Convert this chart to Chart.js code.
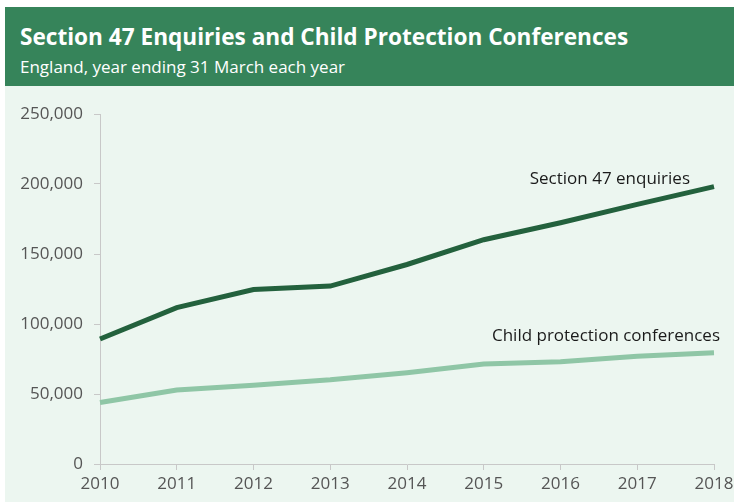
<!DOCTYPE html>
<html>
<head>
<meta charset="utf-8">
<script src="https://cdn.jsdelivr.net/npm/chart.js@4/dist/chart.umd.min.js"></script>
<style>
  html, body { margin: 0; padding: 0; background: #fff; }
  body { width: 734px; height: 502px; overflow: hidden; font-family: "Open Sans", sans-serif; }
  .panel { position: absolute; left: 5px; top: 7px; width: 729px; height: 495px; }
  .header { background: #36845a; height: 79px; color: #fff; box-sizing: border-box; padding: 14px 0 0 15px; }
  .header h1 { margin: 0; font-size: 22.6px; font-weight: 700; line-height: 32px; }
  .header p { margin: 2px 0 0 0; font-size: 17px; line-height: 24px; }
  .plot { position: relative; background: #ecf6f0; height: 416px; }
</style>
</head>
<body>
<div class="panel">
  <div class="header">
    <h1>Section 47 Enquiries and Child Protection Conferences</h1>
    <p>England, year ending 31 March each year</p>
  </div>
  <div class="plot"><canvas id="chart" width="729" height="416"></canvas></div>
</div>
<script>
var years = ["2010", "2011", "2012", "2013", "2014", "2015", "2016", "2017", "2018"];
var enquiries = [89300, 111700, 124600, 127100, 142500, 160200, 172290, 185450, 198090];
var conferences = [43900, 52900, 56300, 60100, 65200, 71400, 73050, 76930, 79470];
var seriesNames = ["Section 47 enquiries", "Child protection conferences"];

// where each series name sits relative to its last point
var endLabels = [
  { dx: -24, dy: -8 },
  { dx: 6, dy: -17 }
];

var endLabelPlugin = {
  id: "endLabels",
  afterDatasetsDraw: function (chart) {
    var ctx = chart.ctx;
    ctx.save();
    ctx.font = "17px 'Open Sans'";
    ctx.fillStyle = "#1a1a1a";
    ctx.textAlign = "right";
    ctx.textBaseline = "middle";
    chart.data.datasets.forEach(function (ds, i) {
      var pts = chart.getDatasetMeta(i).data;
      var last = pts[pts.length - 1];
      ctx.fillText(ds.label, last.x + endLabels[i].dx, last.y + endLabels[i].dy);
    });
    ctx.restore();
  }
};

var axisColor = "#c8c8c8";
var tickFont = { family: "Open Sans", size: 17 };

new Chart(document.getElementById("chart"), {
  type: "line",
  data: {
    labels: years,
    datasets: [
      { label: seriesNames[0], data: enquiries, borderColor: "#23613d", borderWidth: 5, pointRadius: 0, tension: 0 },
      { label: seriesNames[1], data: conferences, borderColor: "#8fc6a6", borderWidth: 5, pointRadius: 0, tension: 0 }
    ]
  },
  options: {
    responsive: false,
    animation: false,
    layout: { padding: { top: 28, right: 20, left: 0, bottom: 0 } },
    plugins: { legend: { display: false }, tooltip: { enabled: false } },
    scales: {
      x: {
        offset: false,
        grid: { display: true, drawOnChartArea: false, drawTicks: true, tickLength: 6, color: axisColor },
        border: { color: axisColor },
        ticks: { color: "#555", font: tickFont, padding: 4, maxRotation: 0, autoSkip: false },
        afterFit: function (s) { s.height = 38; s.paddingLeft = 0; s.paddingRight = 0; }
      },
      y: {
        min: 0,
        max: 250000,
        grid: { display: true, drawOnChartArea: false, drawTicks: true, tickLength: 6, color: axisColor },
        border: { color: axisColor },
        ticks: {
          stepSize: 50000,
          color: "#555",
          font: tickFont,
          padding: 11,
          callback: function (v) { return v.toLocaleString("en-GB"); }
        },
        afterFit: function (s) { s.width = 95; }
      }
    }
  },
  plugins: [endLabelPlugin]
});
</script>
</body>
</html>
